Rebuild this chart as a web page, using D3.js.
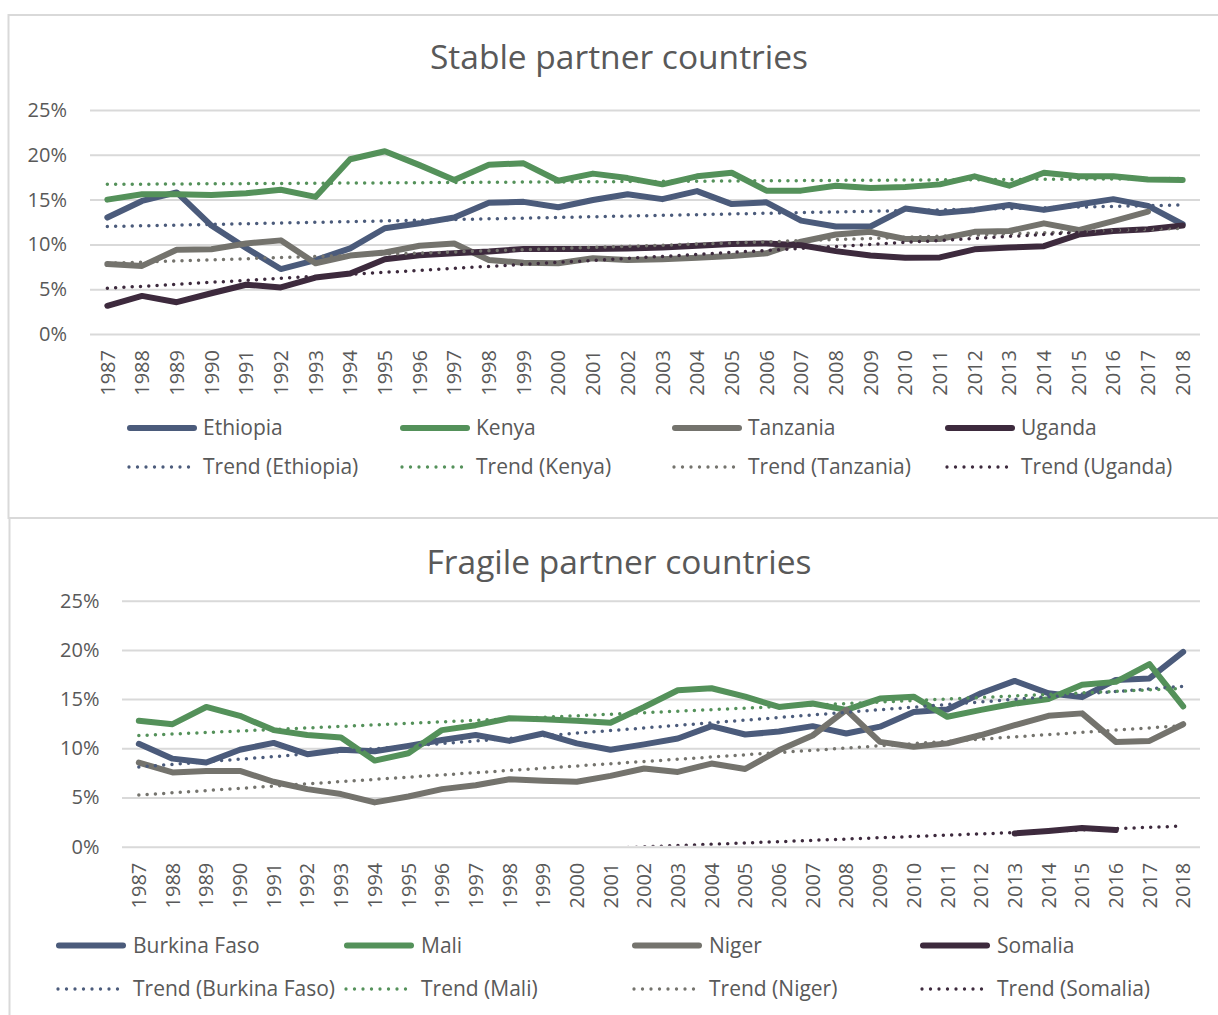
<!DOCTYPE html>
<html>
<head>
<meta charset="utf-8">
<script src="https://cdn.jsdelivr.net/npm/d3@7"></script>
<style>
  html, body { margin: 0; padding: 0; background: #ffffff; }
  svg { display: block; font-family: "Open Sans", "Noto Sans", sans-serif; }
</style>
</head>
<body>
<svg id="chart" width="1218" height="1015"></svg>
<script>
// ---------- DATA ----------
const years = ["1987","1988","1989","1990","1991","1992","1993","1994","1995","1996",
  "1997","1998","1999","2000","2001","2002","2003","2004","2005","2006",
  "2007","2008","2009","2010","2011","2012","2013","2014","2015","2016","2017","2018"];
const yTicks = [0, 5, 10, 15, 20, 25];

// Stable partner countries (% values)
const stableNames = ["Ethiopia", "Kenya", "Tanzania", "Uganda"];
const ethiopia = [13.0,14.85,15.8,12.1,9.6,7.25,8.25,9.55,11.8,12.35,
  13.0,14.65,14.75,14.15,14.95,15.6,15.05,15.95,14.5,14.7,
  12.65,12.0,12.0,14.0,13.5,13.85,14.4,13.85,14.45,15.05,14.3,12.25];
const kenya = [15.0,15.6,15.6,15.5,15.7,16.1,15.3,19.5,20.4,18.85,
  17.2,18.9,19.05,17.1,17.9,17.4,16.7,17.6,18.0,16.0,
  16.0,16.55,16.3,16.4,16.7,17.6,16.55,18.0,17.6,17.6,17.25,17.2];
const tanzania = [7.8,7.6,9.4,9.45,10.1,10.45,7.9,8.75,9.1,9.85,
  10.1,8.25,7.95,7.9,8.45,8.25,8.35,8.5,8.7,9.0,
  10.3,11.1,11.4,10.6,10.6,11.4,11.5,12.35,11.6,12.6,13.65,null];
const uganda = [3.15,4.25,3.55,4.55,5.5,5.2,6.3,6.75,8.35,8.8,
  9.0,9.2,9.5,9.5,9.5,9.55,9.65,9.85,10.05,10.1,
  9.9,9.25,8.75,8.5,8.55,9.45,9.65,9.8,11.1,11.5,11.7,12.1];
// Trend line values at 1987 and at 2018
const stableTrendStart = [12.0, 16.7, 7.9, 5.1];
const stableTrendEnd   = [14.4, 17.35, 11.8, 12.0];

// Fragile partner countries (% values)
const fragileNames = ["Burkina Faso", "Mali", "Niger", "Somalia"];
const burkina = [10.45,8.95,8.55,9.85,10.55,9.4,9.85,9.7,10.25,10.85,
  11.35,10.75,11.5,10.5,9.85,10.4,11.0,12.25,11.4,11.7,
  12.25,11.5,12.2,13.7,13.95,15.6,16.85,15.6,15.2,16.95,17.1,19.8];
const mali = [12.8,12.45,14.2,13.3,11.85,11.35,11.1,8.75,9.5,11.85,
  12.35,13.05,12.95,12.8,12.6,14.2,15.9,16.1,15.25,14.2,
  14.55,13.9,15.05,15.25,13.2,13.9,14.55,15.0,16.45,16.75,18.55,14.25];
const niger = [8.55,7.55,7.7,7.7,6.6,5.85,5.35,4.5,5.1,5.85,
  6.25,6.85,6.7,6.6,7.2,7.95,7.6,8.45,7.9,9.8,
  11.3,13.9,10.65,10.15,10.5,11.35,12.35,13.3,13.55,10.65,10.75,12.45];
const somalia = [null,null,null,null,null,null,null,null,null,null,
  null,null,null,null,null,null,null,null,null,null,
  null,null,null,null,null,null,1.35,1.6,1.9,1.7,null,null];
const fragileTrendStart = [8.1, 11.3, 5.25, -2.0];
const fragileTrendEnd   = [16.3, 16.1, 12.3, 2.1];

const colors = ["#4b5b7b", "#54915a", "#74736d", "#3d2a3d"];

// ---------- DRAW ----------
const svg = d3.select("#chart");
const textColor = "#595959";
const gridColor = "#d9d9d9";

// chart frames
svg.append("rect").attr("x", 8.5).attr("y", 15).attr("width", 1230).attr("height", 503)
  .attr("fill", "none").attr("stroke", gridColor).attr("stroke-width", 2);
svg.append("rect").attr("x", 9.5).attr("y", 518).attr("width", 1230).attr("height", 520)
  .attr("fill", "none").attr("stroke", gridColor).attr("stroke-width", 2);

function drawChart(cfg) {
  const g = svg.append("g");
  const x = d3.scaleBand().domain(years).range([cfg.x0, cfg.x1]).padding(0);
  const cx = d => x(d) + x.bandwidth() / 2;
  const y = d3.scaleLinear().domain([0, 25]).range([cfg.yBottom, cfg.yTop]);

  // title
  g.append("text").attr("x", 619).attr("y", cfg.titleY)
    .attr("text-anchor", "middle").attr("fill", textColor)
    .attr("font-size", 33.5).text(cfg.title);

  // gridlines
  const yAxis = d3.axisLeft(y).tickValues(yTicks)
    .tickSize(-(cfg.x1 - cfg.x0)).tickPadding(cfg.x0 - cfg.labelRight)
    .tickFormat(d => d + "%");
  const ya = g.append("g").attr("transform", `translate(${cfg.x0},0)`).call(yAxis);
  ya.select(".domain").remove();
  ya.selectAll(".tick line").attr("stroke", gridColor).attr("stroke-width", 2);
  ya.selectAll(".tick text").attr("fill", textColor).attr("font-size", 20)
    .attr("font-family", "Open Sans");

  // x axis labels (rotated)
  const xAxis = d3.axisBottom(x).tickSize(0).tickPadding(0);
  const xa = g.append("g").attr("transform", `translate(0,${cfg.yBottom})`).call(xAxis);
  xa.select(".domain").remove();
  xa.selectAll(".tick text")
    .attr("fill", textColor).attr("font-size", 20).attr("font-family", "Open Sans")
    .attr("text-anchor", "end")
    .attr("transform", `translate(0,${cfg.labelGap}) rotate(-90)`)
    .attr("x", 0).attr("y", 0).attr("dy", "0.36em");

  // clip
  const clipId = "clip" + cfg.id;
  svg.append("clipPath").attr("id", clipId).append("rect")
    .attr("x", cfg.x0).attr("y", cfg.yTop - 10)
    .attr("width", cfg.x1 - cfg.x0).attr("height", cfg.yBottom - cfg.yTop + 9);

  const plot = g.append("g").attr("clip-path", `url(#${clipId})`);
  const line = d3.line().defined(d => d.v != null).x(d => cx(d.year)).y(d => y(d.v));

  cfg.series.forEach((s, i) => {
    const pts = years.map((yr, k) => ({ year: yr, v: s[k] }));
    plot.append("path").datum(pts).attr("d", line)
      .attr("fill", "none").attr("stroke", colors[i]).attr("stroke-width", 6)
      .attr("stroke-linejoin", "round").attr("stroke-linecap", "round");
  });
  cfg.series.forEach((s, i) => {
    const pts = [{ year: years[0], v: cfg.trendStart[i] },
                 { year: years[years.length - 1], v: cfg.trendEnd[i] }];
    plot.append("path").datum(pts).attr("d", line)
      .attr("fill", "none").attr("stroke", colors[i]).attr("stroke-width", 3.5)
      .attr("stroke-linecap", "round").attr("stroke-dasharray", "0 8.3");
  });

  // legend
  const lg = g.append("g");
  cfg.names.forEach((n, i) => {
    const lx = cfg.legX[i];
    lg.append("line").attr("x1", lx + 3).attr("x2", lx + 67)
      .attr("y1", cfg.legY[0]).attr("y2", cfg.legY[0])
      .attr("stroke", colors[i]).attr("stroke-width", 6).attr("stroke-linecap", "round");
    lg.append("text").attr("x", lx + cfg.legText).attr("y", cfg.legY[0])
      .attr("dy", "0.35em").attr("fill", textColor).attr("font-size", 21).text(n);
    lg.append("line").attr("x1", lx + 2).attr("x2", lx + 70)
      .attr("y1", cfg.legY[1]).attr("y2", cfg.legY[1])
      .attr("stroke", colors[i]).attr("stroke-width", 3.3)
      .attr("stroke-linecap", "round").attr("stroke-dasharray", "0 8.5");
    lg.append("text").attr("x", lx + cfg.legText).attr("y", cfg.legY[1])
      .attr("dy", "0.35em").attr("fill", textColor).attr("font-size", 21)
      .text("Trend (" + n + ")");
  });
}

drawChart({
  id: "a", title: "Stable partner countries", titleY: 69,
  x0: 90, x1: 1200, yTop: 110, yBottom: 334, labelRight: 67, labelGap: 16,
  series: [ethiopia, kenya, tanzania, uganda], names: stableNames,
  trendStart: stableTrendStart, trendEnd: stableTrendEnd,
  legX: [127, 400, 672, 945], legY: [428, 467], legText: 76
});

drawChart({
  id: "b", title: "Fragile partner countries", titleY: 574,
  x0: 122, x1: 1200, yTop: 600.7, yBottom: 846.7, labelRight: 99.5, labelGap: 16,
  series: [burkina, mali, niger, somalia], names: fragileNames,
  trendStart: fragileTrendStart, trendEnd: fragileTrendEnd,
  legX: [56, 344, 632, 920], legY: [945.5, 989], legText: 77
});
</script>
</body>
</html>
